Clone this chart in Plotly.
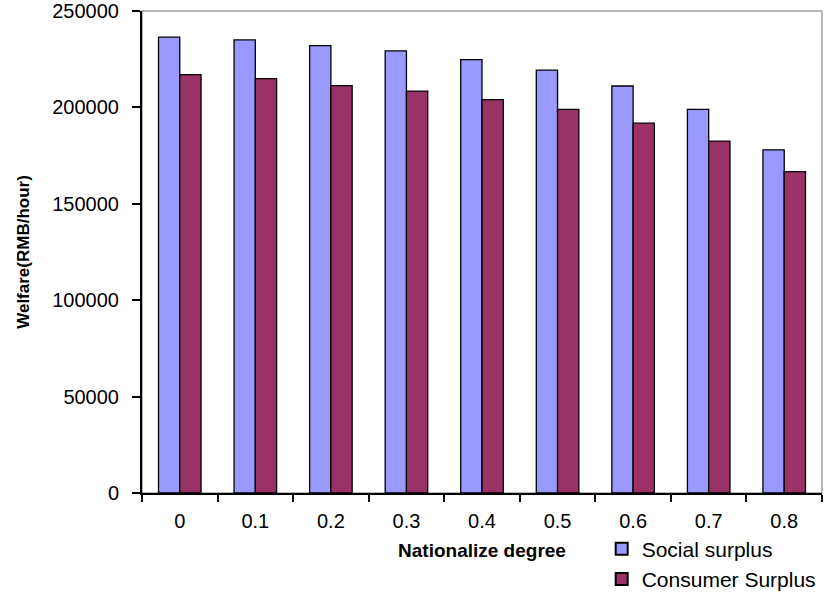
import plotly.graph_objects as go

# Welfare by degree of nationalization
degrees = ["0", "0.1", "0.2", "0.3", "0.4", "0.5", "0.6", "0.7", "0.8"]
social_surplus = [236400, 235000, 232000, 229300, 224800, 219300, 211100, 199000, 178000]
consumer_surplus = [217000, 214900, 211300, 208400, 204000, 199000, 191800, 182500, 166700]
y_ticks = [0, 50000, 100000, 150000, 200000, 250000]

FONT = "Liberation Sans, Arial, sans-serif"

fig = go.Figure()
fig.add_trace(go.Bar(
    x=degrees, y=social_surplus, name="Social surplus",
    marker=dict(color="#9999FF", line=dict(color="#000000", width=1.3)),
))
fig.add_trace(go.Bar(
    x=degrees, y=consumer_surplus, name="Consumer Surplus",
    marker=dict(color="#993366", line=dict(color="#000000", width=1.3)),
))

fig.update_layout(
    width=833, height=592,
    margin=dict(l=142, r=11, t=11, b=99, autoexpand=False),
    paper_bgcolor="white", plot_bgcolor="white",
    barmode="group", bargap=0.437, bargroupgap=0,
    font=dict(family=FONT, color="#000000"),
    showlegend=True,
    legend=dict(
        x=0.676, xanchor="left", y=-0.074, yanchor="top",
        font=dict(size=21, family=FONT),
        bgcolor="rgba(0,0,0,0)", itemsizing="constant",
        tracegroupgap=0,
    ),
    shapes=[dict(
        type="rect", xref="paper", yref="paper", x0=0, x1=1, y0=0, y1=1,
        line=dict(color="#A0A0A0", width=1.5), layer="below",
    )],
)

fig.update_xaxes(
    type="category",
    showline=True, linecolor="#000000", linewidth=2,
    ticks="outside", tickson="boundaries", ticklen=7, tickwidth=2, tickcolor="#000000",
    tickfont=dict(size=20, family=FONT),
    ticklabelstandoff=9,
    showgrid=False, zeroline=False,
    title=dict(text="<b>Nationalize degree</b>", font=dict(size=19, family=FONT), standoff=13),
)

fig.update_yaxes(
    range=[0, 250000],
    tickvals=y_ticks, ticktext=[str(v) for v in y_ticks],
    showline=True, linecolor="#000000", linewidth=2,
    ticks="outside", ticklen=8, tickwidth=1.5, tickcolor="#000000",
    tickfont=dict(size=20, family=FONT),
    ticklabelstandoff=9,
    showgrid=False, zeroline=False,
    title=dict(text="<b>Welfare(RMB/hour)</b>", font=dict(size=17, family=FONT), standoff=18),
)

fig.write_html("out.html")
